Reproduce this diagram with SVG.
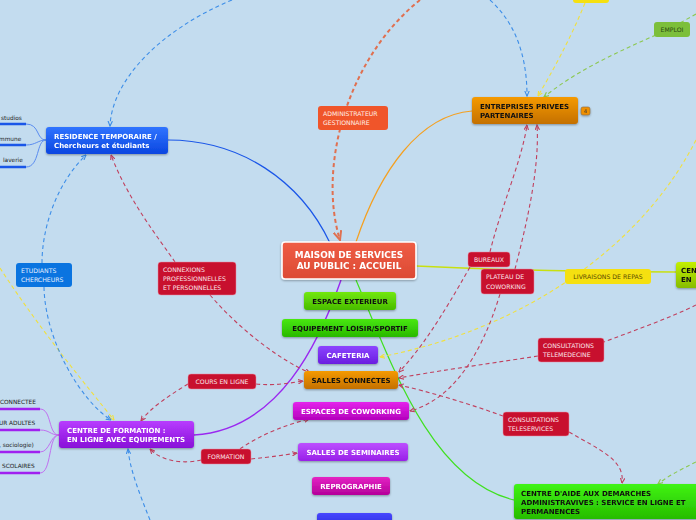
<svg xmlns="http://www.w3.org/2000/svg" width="696" height="520" viewBox="0 0 696 520">
<defs>
<linearGradient id="gRed" x1="0" y1="0" x2="0" y2="1"><stop offset="0" stop-color="#ef5d45"/><stop offset="1" stop-color="#dc4a34"/></linearGradient>
<linearGradient id="gG1" x1="0" y1="0" x2="0" y2="1"><stop offset="0" stop-color="#72e810"/><stop offset="1" stop-color="#48bc00"/></linearGradient>
<linearGradient id="gG2" x1="0" y1="0" x2="0" y2="1"><stop offset="0" stop-color="#48e810"/><stop offset="1" stop-color="#28b800"/></linearGradient>
<linearGradient id="gCaf" x1="0" y1="0" x2="0" y2="1"><stop offset="0" stop-color="#8c44ff"/><stop offset="1" stop-color="#6a1ee0"/></linearGradient>
<linearGradient id="gOr" x1="0" y1="0" x2="0" y2="1"><stop offset="0" stop-color="#f59a00"/><stop offset="1" stop-color="#c47000"/></linearGradient>
<linearGradient id="gMag" x1="0" y1="0" x2="0" y2="1"><stop offset="0" stop-color="#e424ec"/><stop offset="1" stop-color="#b400bc"/></linearGradient>
<linearGradient id="gSem" x1="0" y1="0" x2="0" y2="1"><stop offset="0" stop-color="#bc50ff"/><stop offset="1" stop-color="#9820e8"/></linearGradient>
<linearGradient id="gRep" x1="0" y1="0" x2="0" y2="1"><stop offset="0" stop-color="#e424c4"/><stop offset="1" stop-color="#b4009a"/></linearGradient>
<linearGradient id="gBl" x1="0" y1="0" x2="0" y2="1"><stop offset="0" stop-color="#4848ff"/><stop offset="1" stop-color="#2424d4"/></linearGradient>
<linearGradient id="gRes" x1="0" y1="0" x2="0" y2="1"><stop offset="0" stop-color="#3074ff"/><stop offset="1" stop-color="#0a46e0"/></linearGradient>
<linearGradient id="gFor" x1="0" y1="0" x2="0" y2="1"><stop offset="0" stop-color="#b83cff"/><stop offset="1" stop-color="#8810d8"/></linearGradient>
<linearGradient id="gAid" x1="0" y1="0" x2="0" y2="1"><stop offset="0" stop-color="#40f414"/><stop offset="1" stop-color="#26bc00"/></linearGradient>
<linearGradient id="gYG" x1="0" y1="0" x2="0" y2="1"><stop offset="0" stop-color="#c4f000"/><stop offset="1" stop-color="#86bc00"/></linearGradient>
<filter id="sh" x="-10%" y="-20%" width="120%" height="150%"><feDropShadow dx="0" dy="1" stdDeviation="0.8" flood-color="#000" flood-opacity="0.35"/></filter>
<marker id="aB" viewBox="0 0 10 10" refX="9" refY="5" markerWidth="5" markerHeight="5" orient="auto"><path d="M0 1 L9 5 L0 9" fill="none" stroke="#3d8ee8" stroke-width="2"/></marker>
<marker id="aR" viewBox="0 0 10 10" refX="9" refY="5" markerWidth="5" markerHeight="5" orient="auto"><path d="M0 1 L9 5 L0 9" fill="none" stroke="#c0405e" stroke-width="2"/></marker>
<marker id="aO" viewBox="0 0 10 10" refX="9" refY="5" markerWidth="5" markerHeight="5" orient="auto"><path d="M0 1 L9 5 L0 9" fill="none" stroke="#e07050" stroke-width="2"/></marker>
<marker id="aY" viewBox="0 0 10 10" refX="9" refY="5" markerWidth="5" markerHeight="5" orient="auto"><path d="M0 1 L9 5 L0 9" fill="none" stroke="#f0e040" stroke-width="2"/></marker>
<marker id="aG" viewBox="0 0 10 10" refX="9" refY="5" markerWidth="5" markerHeight="5" orient="auto"><path d="M0 1 L9 5 L0 9" fill="none" stroke="#8cc850" stroke-width="2"/></marker>
</defs>
<style>
text{font-family:"DejaVu Sans","Liberation Sans",sans-serif}
.b{font-weight:bold;font-size:7px}
.w{fill:#fff}
.k{fill:#111}
.lab{font-size:6.2px;fill:#fbe6ea}
.crim{fill:#c8102e;stroke:#e88aa0;stroke-width:0.5}
.dR{fill:none;stroke:#c0405e;stroke-width:1.1;stroke-dasharray:4 3}
.dB{fill:none;stroke:#3d8ee8;stroke-width:1.1;stroke-dasharray:4 3}
.dY{fill:none;stroke:#f0e040;stroke-width:1.1;stroke-dasharray:4 3}
.dG{fill:none;stroke:#8cc850;stroke-width:1.1;stroke-dasharray:4 3}
.leaf{font-size:5.8px;fill:#222}
</style>
<rect width="696" height="520" fill="#c3dcef"/>
<g id="connectors">
<path d="M330 243 C300 180 240 140 168 140" fill="none" stroke="#1a56e8" stroke-width="1.2"/>
<path d="M356 242 C380 170 420 115 472 111" fill="none" stroke="#f5a020" stroke-width="1.2"/>
<path d="M416 266 C500 270 600 272 676 272" fill="none" stroke="#c8e010" stroke-width="1.4"/>
<path d="M341 280 C320 340 280 430 194 435" fill="none" stroke="#9a28f0" stroke-width="1.4"/>
<path d="M356 280 C390 360 430 480 514 500" fill="none" stroke="#40e020" stroke-width="1.2"/>
<path d="M26 124 C40 124 36 140 46 140 M26 145 C36 145 38 140 46 140 M26 167 C40 167 36 140 46 140" fill="none" stroke="#5a8cf0" stroke-width="1"/>
<path d="M0 124 H26 M0 145 H26 M0 167 H26" stroke="#1a56e8" stroke-width="2.5"/>
<path d="M40 409 C52 409 48 435 59 435 M40 430 C50 430 50 435 59 435 M40 452 C50 452 50 435 59 435 M40 473 C52 473 48 435 59 435" fill="none" stroke="#c070f0" stroke-width="1"/>
<path d="M0 409 H40 M0 430 H40 M0 452 H40 M0 473 H40" stroke="#a020f0" stroke-width="2.5"/>
<path d="M420 0 C345 60 318 170 340 240" fill="none" stroke="#e07050" stroke-width="2" stroke-dasharray="4 3" marker-end="url(#aO)"/>
<path class="dB" d="M490 0 C512 20 527 50 527 96" marker-end="url(#aB)"/>
<path class="dB" d="M232 0 C160 30 112 80 110 126" marker-end="url(#aB)"/>
<path class="dY" d="M585 3 C570 40 552 72 538 96" marker-end="url(#aY)"/>
<path class="dG" d="M696 14 L664 32"/>
<path class="dG" d="M656 35 C610 55 572 74 544 97" marker-end="url(#aG)"/>
<path class="dY" d="M696 140 C640 250 520 330 380 357" marker-end="url(#aY)"/>
<path class="dY" d="M0 268 C40 330 90 390 114 420" marker-end="url(#aY)"/>
<path class="dB" d="M42 263 C42 230 55 185 86 155" marker-end="url(#aB)"/>
<path class="dB" d="M44 287 C45 340 80 400 111 420" marker-end="url(#aB)"/>
<path class="dB" d="M150 520 C140 495 130 470 128 449" marker-end="url(#aB)"/>
<path class="dR" d="M175 262 C160 240 128 200 111 155" marker-end="url(#aR)"/>
<path class="dR" d="M210 295 C240 330 280 360 310 373" marker-end="url(#aR)"/>
<path class="dR" d="M188 384 C170 395 150 408 141 421" marker-end="url(#aR)"/>
<path class="dR" d="M256 384 C275 386 290 383 303 381" marker-end="url(#aR)"/>
<path class="dR" d="M201 460 C185 464 162 462 150 449" marker-end="url(#aR)"/>
<path class="dR" d="M240 449 C260 435 285 425 309 419" marker-end="url(#aR)"/>
<path class="dR" d="M251 459 C270 457 285 455 297 453" marker-end="url(#aR)"/>
<path class="dR" d="M490 252 C500 210 522 160 527 125" marker-end="url(#aR)"/>
<path class="dR" d="M470 267 C440 320 420 350 399 372" marker-end="url(#aR)"/>
<path class="dR" d="M515 269 C525 230 540 170 537 125" marker-end="url(#aR)"/>
<path class="dR" d="M500 294 C480 360 450 400 410 411" marker-end="url(#aR)"/>
<path class="dR" d="M696 305 C670 318 630 332 604 342"/>
<path class="dR" d="M538 356 C480 365 430 372 399 378" marker-end="url(#aR)"/>
<path class="dR" d="M503 416 C470 404 430 392 399 385" marker-end="url(#aR)"/>
<path class="dR" d="M569 432 C600 450 625 460 622 483" marker-end="url(#aR)"/>
<path class="dG" d="M696 462 C680 470 668 476 658 484" marker-end="url(#aG)"/>
</g>
<g id="n-center" filter="url(#sh)"><rect x="282" y="242" width="134" height="37" rx="3" fill="url(#gRed)" stroke="#fff" stroke-width="1.6"/>
<text class="w" font-weight="bold" font-size="8.9" text-anchor="middle" x="349" y="258">MAISON DE SERVICES</text>
<text class="w" font-weight="bold" font-size="8.9" text-anchor="middle" x="349" y="269">AU PUBLIC : ACCUEIL</text></g>
<g id="n-ext" filter="url(#sh)"><rect x="304" y="292" width="92" height="18" rx="3" fill="url(#gG1)"/><text class="b k" text-anchor="middle" x="350" y="303.5">ESPACE EXTERIEUR</text></g>
<g id="n-equip" filter="url(#sh)"><rect x="282" y="319" width="136" height="18" rx="3" fill="url(#gG2)"/><text class="b k" text-anchor="middle" x="350" y="330.5">EQUIPEMENT LOISIR/SPORTIF</text></g>
<g id="n-caf" filter="url(#sh)"><rect x="318" y="346" width="60" height="18" rx="3" fill="url(#gCaf)"/><text class="b w" text-anchor="middle" x="348" y="357.5">CAFETERIA</text></g>
<g id="n-salles" filter="url(#sh)"><rect x="304" y="371" width="94" height="18" rx="3" fill="url(#gOr)"/><text class="b k" text-anchor="middle" x="351" y="382.5">SALLES CONNECTES</text></g>
<g id="n-cowork" filter="url(#sh)"><rect x="293" y="402" width="116" height="18" rx="3" fill="url(#gMag)"/><text class="b w" text-anchor="middle" x="351" y="413.5">ESPACES DE COWORKING</text></g>
<g id="n-semin" filter="url(#sh)"><rect x="298" y="443" width="110" height="18" rx="3" fill="url(#gSem)"/><text class="b w" text-anchor="middle" x="353" y="454.5">SALLES DE SEMINAIRES</text></g>
<g id="n-repro" filter="url(#sh)"><rect x="312" y="477" width="78" height="18" rx="3" fill="url(#gRep)"/><text class="b w" text-anchor="middle" x="351" y="488.5">REPROGRAPHIE</text></g>
<g id="n-bottom" filter="url(#sh)"><rect x="317" y="513" width="75" height="18" rx="3" fill="url(#gBl)"/></g>
<g id="n-residence" filter="url(#sh)"><rect x="46" y="127" width="122" height="27" rx="3" fill="url(#gRes)"/>
<text class="b w" x="54" y="138.5">RESIDENCE TEMPORAIRE /</text><text class="b w" x="54" y="148">Chercheurs et étudiants</text></g>
<g id="n-res-leaves"><text class="leaf" x="1" y="120">studios</text><text class="leaf" x="-1" y="141">mmune</text><text class="leaf" x="3" y="162">laverie</text></g>
<g id="n-etudiants"><rect x="16" y="263" width="56" height="24" rx="3" fill="#0a74e0"/>
<text font-size="6.2" fill="#e6f0ff" x="21" y="273">ETUDIANTS</text><text font-size="6.2" fill="#e6f0ff" x="21" y="282">CHERCHEURS</text></g>
<g id="n-formation" filter="url(#sh)"><rect x="59" y="421" width="135" height="27" rx="3" fill="url(#gFor)"/>
<text class="b w" x="67" y="433">CENTRE DE FORMATION :</text><text class="b w" x="67" y="442">EN LIGNE AVEC EQUIPEMENTS</text></g>
<g id="n-form-leaves"><text class="leaf" x="0" y="404">CONNECTEE</text><text class="leaf" x="-1" y="425">UR ADULTES</text><text class="leaf" x="-1" y="447">, sociologie)</text><text class="leaf" x="2" y="468">SCOLAIRES</text></g>
<g id="n-entreprises" filter="url(#sh)"><rect x="472" y="97" width="106" height="27" rx="3" fill="url(#gOr)"/>
<text class="b k" x="480" y="109">ENTREPRISES PRIVEES</text><text class="b k" x="480" y="118">PARTENAIRES</text>
<rect x="581" y="107" width="9" height="8" rx="2" fill="#f09000" stroke="#8a6a40" stroke-width="0.6"/><text font-size="5" fill="#333" text-anchor="middle" x="585.5" y="113">4</text></g>
<g id="n-emploi"><rect x="654" y="22" width="36" height="15" rx="3" fill="#7cbf3a"/><text font-size="6.2" fill="#2a4a10" text-anchor="middle" x="672" y="32">EMPLOI</text></g>
<g id="n-topyellow"><rect x="573" y="-10" width="36" height="13" rx="3" fill="#f5e010"/></g>
<g id="n-admin"><rect x="318" y="106" width="70" height="24" rx="3" fill="#f0552a"/>
<text font-size="6.2" fill="#fff0e8" x="323" y="116">ADMINISTRATEUR</text><text font-size="6.2" fill="#fff0e8" x="323" y="125">GESTIONNAIRE</text></g>
<g id="n-bureaux"><rect class="crim" x="468" y="252" width="42" height="15" rx="3"/><text class="lab" text-anchor="middle" x="489" y="262">BUREAUX</text></g>
<g id="n-plateau"><rect class="crim" x="481" y="269" width="53" height="25" rx="3"/><text class="lab" x="486" y="279">PLATEAU DE</text><text class="lab" x="486" y="289">COWORKING</text></g>
<g id="n-livraisons"><rect x="565" y="269" width="86" height="15" rx="3" fill="#f5e010"/><text font-size="6.2" fill="#5a4a00" text-anchor="middle" x="608" y="279">LIVRAISONS DE REPAS</text></g>
<g id="n-right" filter="url(#sh)"><rect x="676" y="262" width="40" height="26" rx="3" fill="url(#gYG)"/><text class="b k" x="681" y="273" font-size="6.6">CEN</text><text class="b k" x="681" y="282" font-size="6.6">EN</text></g>
<g id="n-telemed"><rect class="crim" x="538" y="338" width="66" height="24" rx="3"/><text class="lab" x="543" y="348">CONSULTATIONS</text><text class="lab" x="543" y="357">TELEMEDECINE</text></g>
<g id="n-teleserv"><rect class="crim" x="503" y="412" width="66" height="24" rx="3"/><text class="lab" x="508" y="422">CONSULTATIONS</text><text class="lab" x="508" y="431">TELESERVICES</text></g>
<g id="n-aide" filter="url(#sh)"><rect x="514" y="484" width="200" height="35" rx="3" fill="url(#gAid)"/>
<text class="b k" x="521" y="496">CENTRE D'AIDE AUX DEMARCHES</text><text class="b k" x="521" y="505">ADMINISTRAVIVES : SERVICE EN  LIGNE ET</text><text class="b k" x="521" y="514">PERMANENCES</text></g>
<g id="n-connexions"><rect class="crim" x="158" y="262" width="78" height="33" rx="3"/><text class="lab" x="163" y="272">CONNEXIONS</text><text class="lab" x="163" y="281">PROFESSIONNELLES</text><text class="lab" x="163" y="290">ET PERSONNELLES</text></g>
<g id="n-cours"><rect class="crim" x="188" y="374" width="68" height="15" rx="3"/><text class="lab" text-anchor="middle" x="222" y="384">COURS EN LIGNE</text></g>
<g id="n-formlabel"><rect class="crim" x="201" y="449" width="50" height="15" rx="3"/><text class="lab" text-anchor="middle" x="226" y="459">FORMATION</text></g>
</svg>
